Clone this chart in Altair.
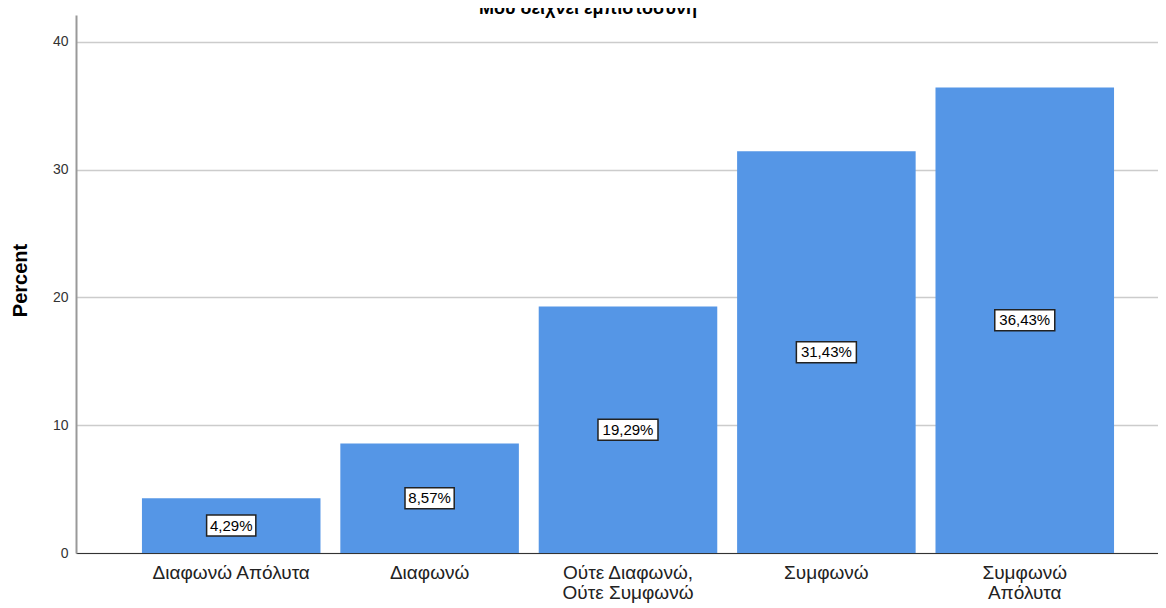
import altair as alt
import pandas as pd

title_text = ["Μου δείχνει εμπιστοσύνη"]
categories = ["Διαφωνώ Απόλυτα", "Διαφωνώ", "Ούτε Διαφωνώ,\nΟύτε Συμφωνώ", "Συμφωνώ", "Συμφωνώ\nΑπόλυτα"]
percents = [4.29, 8.57, 19.29, 31.43, 36.43]
labels = ["4,29%", "8,57%", "19,29%", "31,43%", "36,43%"]
y_ticks = [0, 10, 20, 30, 40]

df = pd.DataFrame({"cat": categories, "pct": percents, "lab": labels})
df_title = pd.DataFrame({"t": title_text})

FONT = "Liberation Sans"

x_enc = alt.X(
    "cat:N",
    sort=categories,
    scale=alt.Scale(paddingInner=0.1, paddingOuter=0.277, align=0.6),
    axis=alt.Axis(
        title=None, labelAngle=0, ticks=False, grid=False,
        labelExpr="split(datum.label, '\\n')",
        labelFontSize=19, labelFont=FONT, labelColor="#222222",
        labelLineHeight=20, labelPadding=10, labelBaseline="top",
        domainColor="#333333", domainWidth=1,
    ),
)

y_scale = alt.Scale(domain=[0, 42.1], nice=False, zero=True)

bars = alt.Chart(df).mark_bar(color="#5596e6").encode(
    x=x_enc,
    y=alt.Y(
        "pct:Q",
        scale=y_scale,
        axis=alt.Axis(
            values=y_ticks, title="Percent", ticks=False, grid=True,
            gridColor="#cccccc", gridWidth=1.5,
            domainColor="#999999", domainWidth=2,
            labelFontSize=14, labelFont=FONT, labelColor="#333333", labelPadding=8,
            titleFontSize=20, titleFont=FONT, titleFontWeight="bold", titleColor="#000000",
            titleX=-56, titleY=265, titleBaseline="middle", titleAngle=270,
        ),
    ),
)

base = alt.Chart(df).transform_calculate(
    mid="datum.pct / 2",
    box="length(datum.lab) <= 5 ? 'M-0.82,-0.35L0.82,-0.35L0.82,0.35L-0.82,0.35Z' : 'M-1,-0.35L1,-0.35L1,0.35L-1,0.35Z'",
)

boxes = base.mark_point(filled=True, fill="white", stroke="#222222", strokeWidth=1.5, opacity=1, size=3600).encode(
    x=alt.X("cat:N", sort=categories),
    y=alt.Y("mid:Q", scale=y_scale),
    shape=alt.Shape("box:N", scale=None),
)

texts = base.mark_text(fontSize=15, font=FONT, color="#000000", baseline="middle", align="center").encode(
    x=alt.X("cat:N", sort=categories),
    y=alt.Y("mid:Q", scale=y_scale),
    text="lab:N",
)

title_mark = alt.Chart(df_title).mark_text(
    fontSize=18, font=FONT, fontWeight="bold", color="#000000",
    align="center", baseline="alphabetic",
).encode(
    x=alt.value(512),
    y=alt.value(-1),
    text="t:N",
)

chart = alt.layer(bars, boxes, texts, title_mark).properties(
    width=1082,
    height=538,
    autosize=alt.AutoSizeParams(type="none"),
    padding={"left": 68, "top": 7, "right": 0, "bottom": 53},
).configure_view(stroke=None)

chart.save("out.html", embed_options={"renderer": "svg", "actions": False})
